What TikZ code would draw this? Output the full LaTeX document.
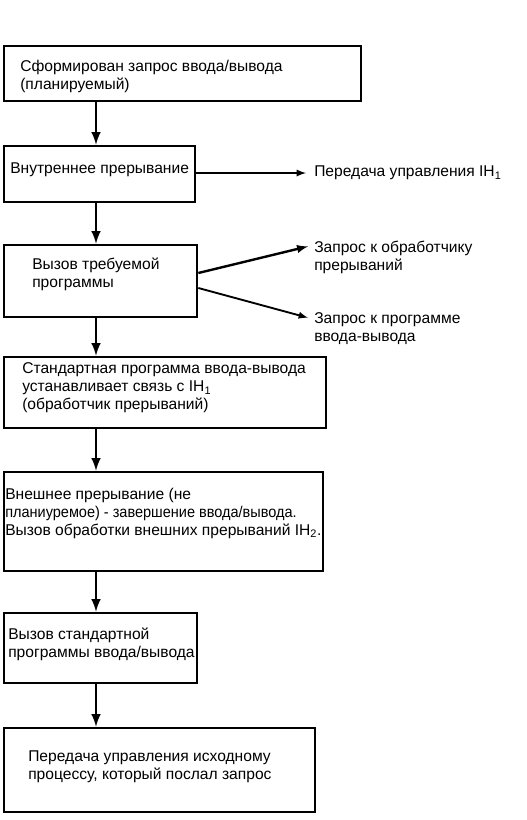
\documentclass[tikz,border=0pt]{standalone}
\usepackage{fontspec}
\usepackage{graphicx}
\setmainfont{Liberation Sans}
\usetikzlibrary{fit}
\tikzset{
  box/.style={draw, line width=2pt, inner sep=0pt},
  txt/.style={anchor=west, align=left, inner sep=0pt, font=\fontsize{11.7}{13.5}\selectfont},
  varr/.style={-latex, line width=2.2pt},
  harr/.style={-latex, line width=1.4pt}
}
\begin{document}
\begin{tikzpicture}[x=0.75pt,y=-0.75pt]
     \useasboundingbox (0,0) rectangle (526,820);
     \coordinate (spine) at (96,0);

     \node [box, fit={(4,46) (361,101)}] (b1) {};
     \node [box, fit={(4,146) (195,202)}] (b2) {};
     \node [box, fit={(4,245) (197,317)}] (b3) {};
     \node [box, fit={(4,357) (326,428)}] (b4) {};
     \node [box, fit={(4,472) (323,571)}] (b5) {};
     \node [box, fit={(4,613) (197,683)}] (b6) {};
     \node [box, fit={(4,728) (315,812)}] (b7) {};

     \node [txt] (t1) at (20,76) {Сформирован запрос ввода/вывода\\(планируемый)};
     \node [txt] (t2) at (10,170) {Внутреннее прерывание};
     \node [txt] (t3) at (32,274) {Вызов требуемой\\программы};
     \node [txt] (t4) at (22,388) {Стандартная программа ввода-вывода\\устанавливает связь с IH\textsubscript{1}\\(обработчик прерываний)};
     \node [txt] (t5) at (5,513) {Внешнее прерывание (не\\\scalebox{0.93}[1]{планиуремое) - завершение ввода/вывода.}\\Вызов обработки внешних прерываний IH\textsubscript{2}.};
     \node [txt] (t6) at (8,644) {Вызов стандартной\\программы ввода/вывода};
     \node [txt] (t7) at (28,767) {Передача управления исходному\\процессу, который послал запрос};

     \node [txt] (r1) at (314,173) {Передача управления IH\textsubscript{1}};
     \node [txt] (r2) at (314,257) {Запрос к обработчику\\прерываний};
     \node [txt] (r3) at (314,329) {Запрос к программе\\ввода-вывода};

     \draw [varr] (b1.south -| spine) -- (b2.north -| spine);
     \draw [varr] (b2.south -| spine) -- (b3.north -| spine);
     \draw [varr] (b3.south -| spine) -- (b4.north -| spine);
     \draw [varr] (b4.south -| spine) -- (b5.north -| spine);
     \draw [varr] (b5.south -| spine) -- (b6.north -| spine);
     \draw [varr] (b6.south -| spine) -- (b7.north -| spine);

     \draw [harr] (b2.east |- r1.west) -- ([shift={(-8,0)}]r1.west);
     \draw [harr, line width=1.8pt] ([shift={(0,-8)}]b3.east) -- ([shift={(-6,6)}]r2.north west);
     \draw [harr] ([shift={(0,7)}]b3.east) -- ([shift={(-6,5)}]r3.north west);
\end{tikzpicture}
\end{document}
